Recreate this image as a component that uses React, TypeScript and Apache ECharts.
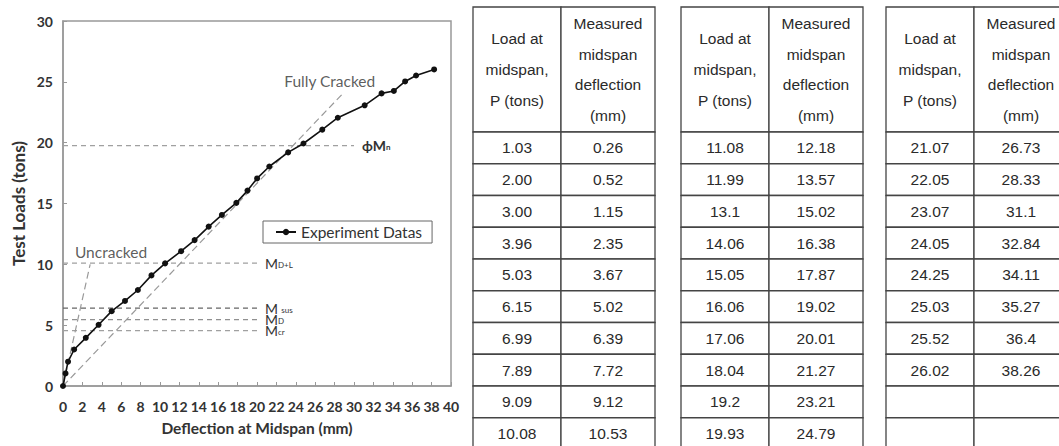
import React, { useEffect, useRef } from "react";
import * as echarts from "echarts";

// ---- Data (from the table) ----
const loadText = [
  "1.03", "2.00", "3.00", "3.96", "5.03", "6.15", "6.99", "7.89", "9.09", "10.08",
  "11.08", "11.99", "13.1", "14.06", "15.05", "16.06", "17.06", "18.04", "19.2", "19.93",
  "21.07", "22.05", "23.07", "24.05", "24.25", "25.03", "25.52", "26.02",
];
const deflText = [
  "0.26", "0.52", "1.15", "2.35", "3.67", "5.02", "6.39", "7.72", "9.12", "10.53",
  "12.18", "13.57", "15.02", "16.38", "17.87", "19.02", "20.01", "21.27", "23.21", "24.79",
  "26.73", "28.33", "31.1", "32.84", "34.11", "35.27", "36.4", "38.26",
];
const headerLoad = ["Load at", "midspan,", "P (tons)"];
const headerDefl = ["Measured", "midspan", "deflection", "(mm)"];

// reference levels
const refNames = ["phiMn", "MDL", "Msus", "MD", "Mcr"];
const refLevels = [19.75, 10.1, 6.4, 5.45, 4.55];
const refEnds = [30, 20, 20, 20, 20];
const refLabels = ["{b|ϕM}{bs|n}", "{m|M}{s|D+L}", "{m|M} {s|sus}", "{m|M}{s|D}", "{m|M}{s|cr}"];
const refColors = ["#a0a0a0", "#a0a0a0", "#666666", "#909090", "#a0a0a0"];

// stiffness lines
const uncracked = [[0, 0], [2.8, 10]];
const fullyCracked = [[0, 0], [28.8, 24]];

export default function App() {
  const ref = useRef<HTMLDivElement>(null);
  useEffect(() => {
    document.body.style.margin = "0";
    const chart = echarts.init(ref.current!, undefined, { renderer: "svg" });
    const font = "Lato";
    const mainData: number[][] = [[0, 0]].concat(
      deflText.map((d, i) => [Number(d), Number(loadText[i])])
    );

    const rich = {
      m: { fontSize: 14, color: "#333", fontFamily: font, lineHeight: 11 },
      s: { fontSize: 8, color: "#333", fontFamily: font, lineHeight: 3, verticalAlign: "bottom" },
      b: { fontSize: 14, color: "#333", fontFamily: font, fontWeight: "bold", lineHeight: 11 },
      bs: { fontSize: 8, color: "#333", fontFamily: font, fontWeight: "bold", lineHeight: 3, verticalAlign: "bottom" },
    };

    const refSeries = refNames.map((n, i) => ({
      name: n,
      type: "line",
      data: [[0, refLevels[i]], [refEnds[i], refLevels[i]]],
      symbol: "none",
      silent: true,
      lineStyle: { color: refColors[i], width: 1.3, type: [5, 4] },
      endLabel: { show: true, formatter: refLabels[i], distance: 8, rich },
      z: 1,
    }));

    // table graphics
    const tableX = [473, 681, 886];
    const colW = [88, 94];
    const top = 7;
    const headH = 125;
    const rowH = 31.75;
    const rowsPer = 10;
    const tfont = "Liberation Sans";
    const tColor = "#2a2a2a";
    const elements: any[] = [];
    tableX.forEach((tx, t) => {
      [0, 1].forEach((c) => {
        const cx = tx + (c === 0 ? 0 : colW[0]);
        elements.push({
          type: "rect",
          shape: { x: cx, y: top, width: colW[c], height: headH },
          style: { fill: "#fff", stroke: "#444", lineWidth: 1.3 },
        });
        const lines = c === 0 ? headerLoad : headerDefl;
        const lh = 30.7;
        const mid = top + headH / 2;
        lines.forEach((ln, k) => {
          elements.push({
            type: "text",
            x: cx + colW[c] / 2,
            y: mid + (k - (lines.length - 1) / 2) * lh,
            style: {
              text: ln, fill: tColor, fontSize: 15.5, fontFamily: tfont,
              textAlign: "center", textVerticalAlign: "middle",
            },
          });
        });
      });
      for (let r = 0; r < rowsPer; r++) {
        const idx = t * rowsPer + r;
        const y = top + headH + r * rowH;
        [0, 1].forEach((c) => {
          const cx = tx + (c === 0 ? 0 : colW[0]);
          elements.push({
            type: "rect",
            shape: { x: cx, y, width: colW[c], height: rowH },
            style: { fill: "#fff", stroke: "#444", lineWidth: 1.3 },
          });
          const txt = idx < loadText.length ? (c === 0 ? loadText[idx] : deflText[idx]) : "";
          if (txt) {
            elements.push({
              type: "text",
              x: cx + colW[c] / 2,
              y: y + rowH / 2,
              style: {
                text: txt, fill: tColor, fontSize: 15.5, fontFamily: tfont,
                textAlign: "center", textVerticalAlign: "middle",
              },
            });
          }
        });
      }
    });

    chart.setOption({
      animation: false,
      backgroundColor: "#fff",
      grid: {
        left: 63, top: 21, width: 388, height: 365,
        show: true, borderColor: "#999", borderWidth: 1.5, backgroundColor: "transparent",
      },
      legend: {
        data: ["Experiment Datas"],
        left: 263, top: 221,
        padding: [3, 10, 3, 12],
        borderColor: "#666", borderWidth: 1, backgroundColor: "#fff",
        itemWidth: 20, itemHeight: 8, itemGap: 5,
        textStyle: { fontSize: 15.5, color: "#333", fontFamily: font },
      },
      xAxis: {
        type: "value", min: 0, max: 40, interval: 2,
        name: "Deflection at Midspan (mm)", nameLocation: "middle", nameGap: 34,
        nameTextStyle: { fontSize: 15.5, fontWeight: "bold", color: "#333", fontFamily: font },
        axisLine: { show: true, lineStyle: { color: "#999", width: 1.5 } },
        axisTick: { show: true, inside: true, length: 4, lineStyle: { color: "#999" } },
        axisLabel: { fontSize: 14, fontWeight: "bold", color: "#333", fontFamily: font, margin: 13 },
        splitLine: { show: false },
      },
      yAxis: {
        type: "value", min: 0, max: 30, interval: 5,
        name: "Test Loads (tons)", nameLocation: "middle", nameGap: 36, nameRotate: 90,
        nameTextStyle: { fontSize: 17, fontWeight: "bold", color: "#333", fontFamily: font },
        axisLine: { show: true, lineStyle: { color: "#999", width: 1.5 } },
        axisTick: { show: true, inside: true, length: 4, lineStyle: { color: "#999" } },
        axisLabel: { fontSize: 14, fontWeight: "bold", color: "#333", fontFamily: font, margin: 10 },
        splitLine: { show: false },
      },
      series: [
        ...refSeries,
        {
          name: "uncracked", type: "line", data: uncracked, symbol: "none", silent: true,
          lineStyle: { color: "#999", width: 1.2, type: [7, 4] }, z: 1,
        },
        {
          name: "fullyCracked", type: "line", data: fullyCracked, symbol: "none", silent: true,
          lineStyle: { color: "#999", width: 1.2, type: [7, 4] }, z: 1,
        },
        {
          name: "labels", type: "scatter", silent: true, symbolSize: 0,
          data: [
            { value: [27.5, 25.1], label: { formatter: "Fully Cracked" } },
            { value: [4.95, 11.0], label: { formatter: "Uncracked" } },
          ],
          label: { show: true, position: "inside", fontSize: 15.5, color: "#333", fontFamily: font },
        },
        {
          name: "Experiment Datas", type: "line", data: mainData,
          symbol: "circle", symbolSize: 6,
          itemStyle: { color: "#111" },
          lineStyle: { color: "#111", width: 1.6 },
          z: 5,
        },
      ],
      graphic: { elements },
    });
    return () => chart.dispose();
  }, []);
  return <div ref={ref} style={{ width: 1059, height: 446 }} />;
}
